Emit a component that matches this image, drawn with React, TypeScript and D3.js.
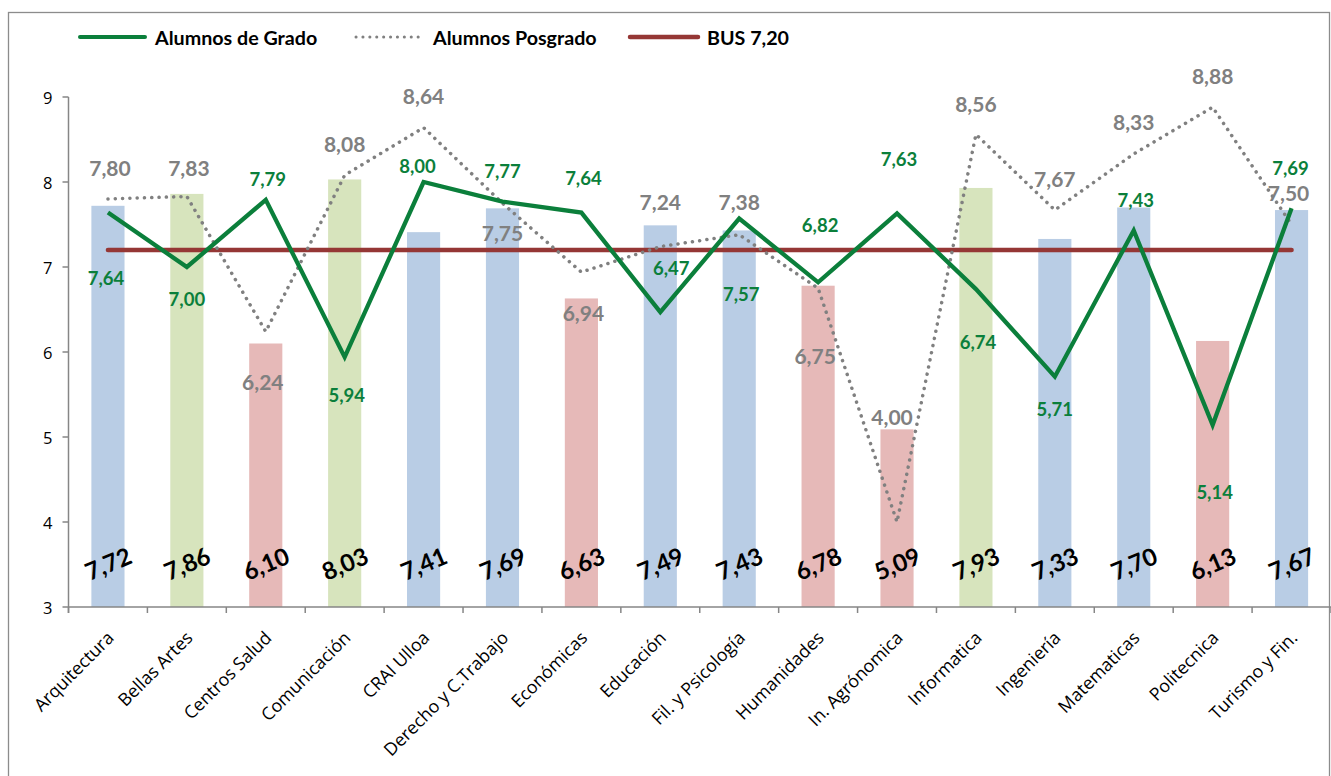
import React from "react";
import * as d3 from "d3";

// Satisfaction scores by centre (survey results)
const categories = [
  "Arquitectura",
  "Bellas Artes",
  "Centros Salud",
  "Comunicación",
  "CRAI Ulloa",
  "Derecho y C.Trabajo",
  "Económicas",
  "Educación",
  "Fil. y Psicología",
  "Humanidades",
  "In. Agrónomica",
  "Informatica",
  "Ingeniería",
  "Matematicas",
  "Politecnica",
  "Turismo y Fin.",
];

const totalScores = [7.72, 7.86, 6.1, 8.03, 7.41, 7.69, 6.63, 7.49, 7.43, 6.78, 5.09, 7.93, 7.33, 7.7, 6.13, 7.67];
const gradoScores = [7.64, 7.0, 7.79, 5.94, 8.0, 7.77, 7.64, 6.47, 7.57, 6.82, 7.63, 6.74, 5.71, 7.43, 5.14, 7.69];
const posgradoScores = [7.8, 7.83, 6.24, 8.08, 8.64, 7.75, 6.94, 7.24, 7.38, 6.75, 4.0, 8.56, 7.67, 8.33, 8.88, 7.5];
const busScore = 7.2;

const yTicks = [3, 4, 5, 6, 7, 8, 9];

const legendItems = ["Alumnos de Grado", "Alumnos Posgrado", "BUS 7,20"];

// Hand-placed label offsets (px, relative to each point)
const gradoLabelDy = [65, 32, -21, 38, -16, -31, -35, -44, 75, -57, -54, 53, 32, -30, 67, -40];
const gradoLabelDx = [-2, 0, 2, 2, -6, 0, 2, 11, 2, 2, 2, 2, 0, 2, 2, -1];
const posgradoLabelDy = [-32, -29, 50, -32, -32, 29, 40, -45, -33, 67, -106, -31, -32, -32, -32, -32];
const posgradoLabelDx = [2, 2, -3, 0, 0, 0, 2, 0, 0, -3, -5, 0, 0, 0, 0, -3];

const W = 1331;
const H = 776;
const plotLeft = 68.5;
const plotRight = 1331;
const plotTop = 97;
const plotBottom = 607;

const GREEN = "#0B7F3B";
const GREY = "#808080";
const RED = "#953735";
const AXIS = "#868686";

const fmt = (v: number) => d3.format(".2f")(v).replace(".", ",");

export default function App() {
  const x = d3
    .scaleBand<string>()
    .domain(categories)
    .range([plotLeft, plotRight])
    .paddingInner(0.58)
    .paddingOuter(0.29);
  const step = x.step();
  const cx = (i: number) => (x(categories[i]) as number) + x.bandwidth() / 2;

  const y = d3.scaleLinear().domain([3, 9]).range([plotBottom, plotTop]);

  const barColor = d3
    .scaleThreshold<number, string>()
    .domain([7.2, 7.8])
    .range(["#E6B9B8", "#B9CDE5", "#D7E4BD"]);

  const line = d3
    .line<number>()
    .x((_, i) => cx(i))
    .y((d) => y(d));

  const busLine = d3
    .line<number>()
    .x((_, i) => cx(i === 0 ? 0 : categories.length - 1))
    .y((d) => y(d));

  const labelFont = "Lato, 'Open Sans', sans-serif";
  const axisFont = "'Open Sans', sans-serif";

  const boundaries = d3.range(categories.length + 1).map((i) => plotLeft + i * step);

  return (
    <svg
      width={W}
      height={H}
      style={{ position: "absolute", left: 0, top: 0, background: "#fff" }}
    >
      {/* outer chart frame */}
      <rect x={8.5} y={12.5} width={1321} height={800} fill="#fff" stroke="#8C8C8C" strokeWidth={1.3} />

      {/* legend */}
      <g fontFamily={labelFont} fontWeight={700} fontSize={19.7} fill="#000">
        <line x1={80} x2={145} y1={37} y2={37} stroke={GREEN} strokeWidth={4} strokeLinecap="round" />
        <text x={155} y={37} dominantBaseline="central">{legendItems[0]}</text>
        <line x1={356} x2={425} y1={37} y2={37} stroke={GREY} strokeWidth={3} strokeLinecap="round" strokeDasharray="0.1 6.8" />
        <text x={433} y={37} dominantBaseline="central">{legendItems[1]}</text>
        <line x1={630} x2={698} y1={37} y2={37} stroke={RED} strokeWidth={4.5} strokeLinecap="round" />
        <text x={707} y={37} dominantBaseline="central">{legendItems[2]}</text>
      </g>

      {/* bars */}
      {totalScores.map((v, i) => (
        <rect
          key={"bar" + i}
          x={x(categories[i])}
          y={y(v)}
          width={x.bandwidth()}
          height={plotBottom - y(v)}
          fill={barColor(v)}
        />
      ))}

      {/* axes */}
      <g stroke={AXIS} strokeWidth={1.5}>
        <line x1={plotLeft} x2={plotLeft} y1={plotTop} y2={plotBottom + 6} />
        {yTicks.map((t) => (
          <line key={"yt" + t} x1={plotLeft - 6} x2={plotLeft} y1={y(t)} y2={y(t)} />
        ))}
        <line x1={plotLeft} x2={plotRight} y1={plotBottom} y2={plotBottom} />
        {boundaries.map((b, i) => (
          <line key={"xt" + i} x1={b} x2={b} y1={plotBottom} y2={plotBottom + 6} />
        ))}
      </g>
      <g fontFamily={axisFont} fontSize={16.5} fill="#000">
        {yTicks.map((t) => (
          <text key={"yl" + t} x={plotLeft - 16} y={y(t)} textAnchor="end" dominantBaseline="central">
            {t}
          </text>
        ))}
      </g>
      <g fontFamily={axisFont} fontSize={17.8} fill="#000">
        {categories.map((c, i) => (
          <text
            key={"xl" + i}
            transform={`translate(${cx(i) + 7},${plotBottom + 32}) rotate(-45)`}
            textAnchor="end"
          >
            {c}
          </text>
        ))}
      </g>

      {/* BUS reference */}
      <path
        d={busLine([busScore, busScore]) as string}
        fill="none"
        stroke={RED}
        strokeWidth={4.5}
        strokeLinecap="round"
      />

      {/* Posgrado series */}
      <path
        d={line(posgradoScores) as string}
        fill="none"
        stroke={GREY}
        strokeWidth={3.5}
        strokeLinecap="round"
        strokeDasharray="0.1 7.2"
      />

      {/* Grado series */}
      <path
        d={line(gradoScores) as string}
        fill="none"
        stroke={GREEN}
        strokeWidth={4.3}
        strokeLinejoin="miter"
      />

      {/* bar value labels */}
      <g fontFamily={labelFont} fontWeight={700} fontSize={24} fill="#000">
        {totalScores.map((v, i) => (
          <text
            key={"bl" + i}
            transform={`translate(${cx(i)},${563}) rotate(-23)`}
            textAnchor="middle"
            dominantBaseline="central"
          >
            {fmt(v)}
          </text>
        ))}
      </g>

      {/* posgrado labels */}
      <g fontFamily={labelFont} fontWeight={700} fontSize={21} fill={GREY}>
        {posgradoScores.map((v, i) => (
          <text
            key={"pl" + i}
            x={cx(i) + posgradoLabelDx[i]}
            y={y(v) + posgradoLabelDy[i]}
            textAnchor="middle"
            dominantBaseline="central"
          >
            {fmt(v)}
          </text>
        ))}
      </g>

      {/* grado labels */}
      <g fontFamily={labelFont} fontWeight={700} fontSize={18.5} fill={GREEN}>
        {gradoScores.map((v, i) => (
          <text
            key={"gl" + i}
            x={cx(i) + gradoLabelDx[i]}
            y={y(v) + gradoLabelDy[i]}
            textAnchor="middle"
            dominantBaseline="central"
          >
            {fmt(v)}
          </text>
        ))}
      </g>
    </svg>
  );
}
